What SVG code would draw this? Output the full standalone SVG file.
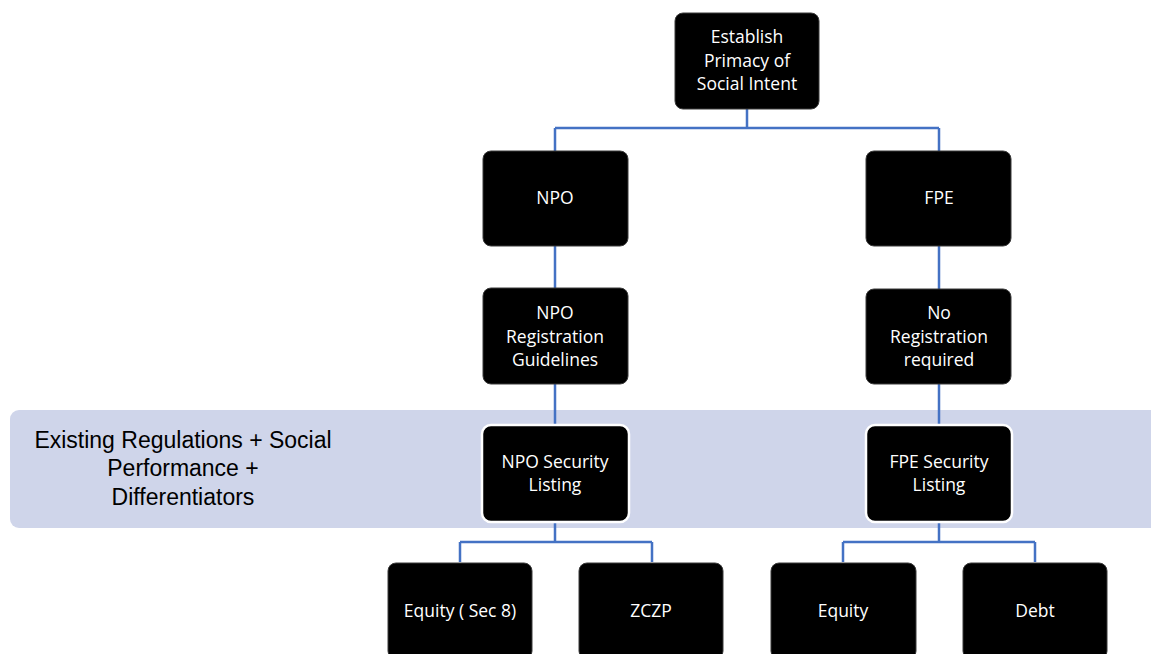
<svg xmlns="http://www.w3.org/2000/svg" width="1151" height="654" viewBox="0 0 1151 654">
<style>
.node{fill:#000;stroke:#3a3a3a;stroke-width:1}
.band-node{fill:#000;stroke:#fff;stroke-width:2.5}
.lbl{font-family:"Open Sans","Liberation Sans",sans-serif;font-size:17.5px;fill:#fff;text-anchor:middle}
.band-lbl{font-family:"Liberation Sans","Open Sans",sans-serif;font-size:23px;fill:#000;text-anchor:middle}
.conn{fill:none;stroke:#4472C4;stroke-width:2.5}
</style>
<rect width="1151" height="654" fill="#fff"/>
<g id="band">
<rect x="10" y="410" width="1160" height="118" rx="9" fill="#CFD5EA"/>
<text class="band-lbl"><tspan x="183" y="448">Existing Regulations + Social</tspan><tspan x="183" y="476">Performance +</tspan><tspan x="183" y="505">Differentiators</tspan></text>
</g>
<g id="connectors">
<path class="conn" d="M747 109 V128 M555 128 H939 M555 128 V151 M939 128 V151"/>
<path class="conn" d="M555 246 V288 M939 246 V289"/>
<path class="conn" d="M555 384 V425 M939 383 V425"/>
<path class="conn" d="M555 522 V542 M460 542 H652 M460 542 V562 M652 542 V562"/>
<path class="conn" d="M939 522 V542 M843 542 H1035 M843 542 V562 M1035 542 V562"/>
</g>
<g id="n-establish">
<rect class="node" x="675" y="13" width="144" height="96" rx="8"/>
<text class="lbl"><tspan x="747" y="43">Establish</tspan><tspan x="747" y="67">Primacy of</tspan><tspan x="747" y="90">Social Intent</tspan></text>
</g>
<g id="n-npo">
<rect class="node" x="483" y="151" width="145" height="95" rx="8"/>
<text class="lbl" x="555" y="204">NPO</text>
</g>
<g id="n-fpe">
<rect class="node" x="866" y="151" width="145" height="95" rx="8"/>
<text class="lbl" x="939" y="204">FPE</text>
</g>
<g id="n-npo-reg">
<rect class="node" x="483" y="288" width="145" height="96" rx="8"/>
<text class="lbl"><tspan x="555" y="319">NPO</tspan><tspan x="555" y="343">Registration</tspan><tspan x="555" y="366">Guidelines</tspan></text>
</g>
<g id="n-no-reg">
<rect class="node" x="866" y="289" width="145" height="95" rx="8"/>
<text class="lbl"><tspan x="939" y="319">No</tspan><tspan x="939" y="343">Registration</tspan><tspan x="939" y="366">required</tspan></text>
</g>
<g id="n-npo-sec">
<rect class="band-node" x="482" y="425" width="147" height="97" rx="9"/>
<text class="lbl"><tspan x="555" y="468">NPO Security</tspan><tspan x="555" y="491">Listing</tspan></text>
</g>
<g id="n-fpe-sec">
<rect class="band-node" x="866" y="425" width="146" height="97" rx="9"/>
<text class="lbl"><tspan x="939" y="468">FPE Security</tspan><tspan x="939" y="491">Listing</tspan></text>
</g>
<g id="n-equity-sec8">
<rect class="node" x="388" y="563" width="144" height="96" rx="8"/>
<text class="lbl" x="460" y="617">Equity ( Sec 8)</text>
</g>
<g id="n-zczp">
<rect class="node" x="579" y="563" width="144" height="96" rx="8"/>
<text class="lbl" x="651" y="617">ZCZP</text>
</g>
<g id="n-equity">
<rect class="node" x="771" y="563" width="145" height="96" rx="8"/>
<text class="lbl" x="843" y="617">Equity</text>
</g>
<g id="n-debt">
<rect class="node" x="963" y="563" width="144" height="96" rx="8"/>
<text class="lbl" x="1035" y="617">Debt</text>
</g>
</svg>
